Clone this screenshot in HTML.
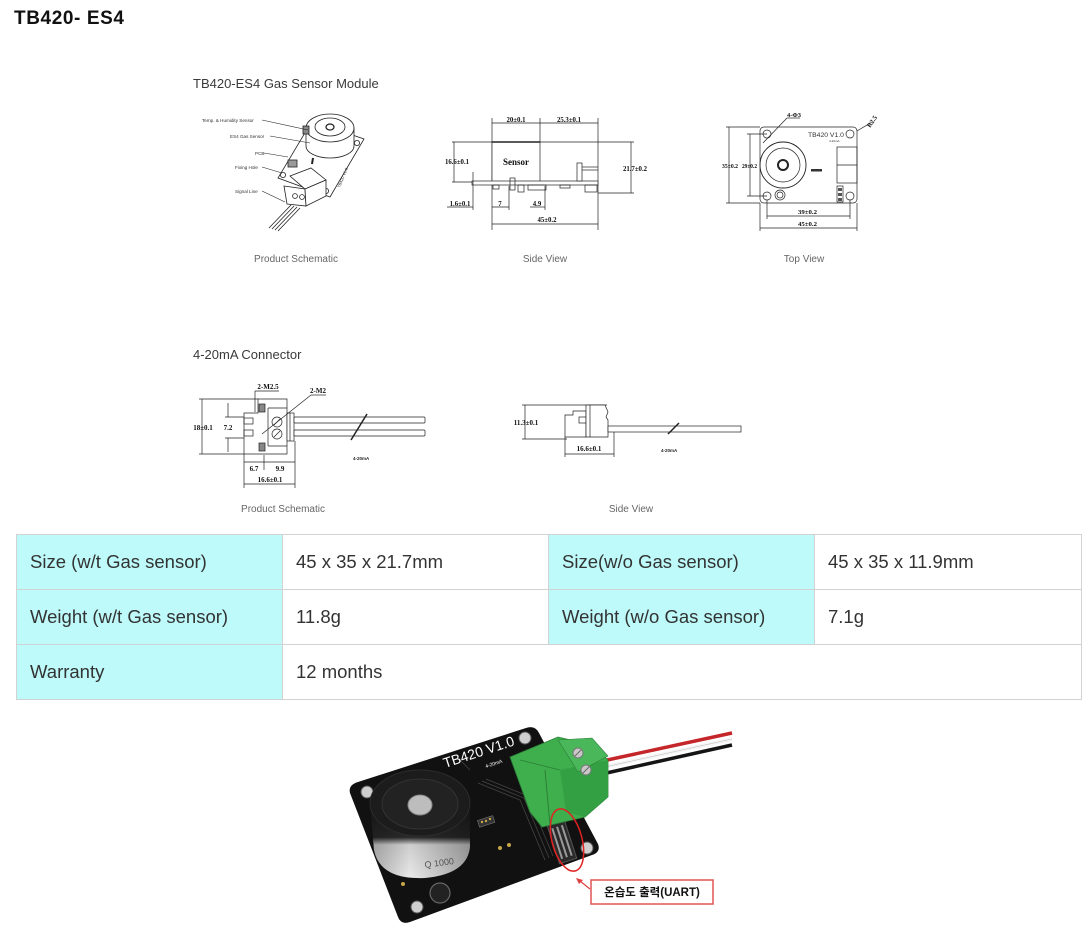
<!DOCTYPE html>
<html><head><meta charset="utf-8">
<style>
html,body{margin:0;padding:0;background:#fff;}
body{width:1092px;height:931px;position:relative;overflow:hidden;font-family:"Liberation Sans","Noto Sans CJK KR",sans-serif;}
.title{position:absolute;left:14px;top:8px;font-size:19px;font-weight:bold;color:#111;letter-spacing:0.6px;}
table{position:absolute;left:16px;top:534px;border-collapse:collapse;table-layout:fixed;width:1065px;}
td{border:1px solid #d2d2d2;height:54px;padding:0 0 0 13px;font-size:18.5px;color:#333;vertical-align:middle;}
td.c{background:#bdfaf9;}
svg{position:absolute;left:0;top:0;}
</style></head><body>
<div class="title">TB420- ES4</div>

<svg width="1092" height="931" viewBox="0 0 1092 931" font-family="Liberation Sans, sans-serif">
<defs>
<linearGradient id="cyl" x1="0" y1="0" x2="0" y2="1">
<stop offset="0" stop-color="#1a1a1a"/><stop offset="0.45" stop-color="#2a2a2a"/><stop offset="0.55" stop-color="#cfcfcf"/><stop offset="1" stop-color="#e9e9e9"/>
</linearGradient>
<linearGradient id="cylx" x1="0" y1="0" x2="1" y2="0">
<stop offset="0" stop-color="#000" stop-opacity="0.25"/><stop offset="0.4" stop-color="#000" stop-opacity="0"/><stop offset="1" stop-color="#000" stop-opacity="0.3"/>
</linearGradient>
</defs>

<!-- headings -->
<text x="193" y="88" font-size="13" fill="#3a3a3a">TB420-ES4 Gas Sensor Module</text>
<text x="193" y="359" font-size="13" fill="#3a3a3a">4-20mA Connector</text>

<g font-size="10" fill="#666" text-anchor="middle">
<text x="296" y="262">Product Schematic</text>
<text x="545" y="262">Side View</text>
<text x="804" y="262">Top View</text>
<text x="283" y="512">Product Schematic</text>
<text x="631" y="512">Side View</text>
</g>

<!-- ===== Product schematic (module) ===== -->
<g stroke="#222" stroke-width="0.8" fill="#fff">
<polygon points="312,121 364,139 330,197 278,178"/>
<circle cx="283" cy="175" r="2.6"/>
<circle cx="326" cy="191" r="2.6"/>
<circle cx="357" cy="143" r="2.6"/>
<path d="M306,128 L306,146 A24,12 0 0 0 354,146 L354,128 Z"/>
<ellipse cx="330" cy="128" rx="24" ry="14"/>
<ellipse cx="330" cy="127" rx="15" ry="9"/>
<ellipse cx="330" cy="127" rx="4" ry="3" stroke-width="1.3"/>
<rect x="303" y="126" width="6" height="8" fill="#888"/>
<polygon points="290,176 311,168 326,180 305,189"/>
<polygon points="284,186 305,189 306,206 287,204"/>
<polygon points="305,189 326,180 326,196 306,206"/>
<circle cx="295" cy="196" r="2.4"/>
<circle cx="302" cy="197" r="2.4"/>
<rect x="288" y="160" width="9" height="7" fill="#999"/>
</g>
<g stroke="#222" stroke-width="0.8">
<line x1="313" y1="158" x2="312" y2="164" stroke-width="2"/>
<line x1="291" y1="205" x2="269" y2="228"/><line x1="294" y1="206" x2="272" y2="229"/>
<line x1="297" y1="207" x2="275" y2="230"/><line x1="300" y1="208" x2="278" y2="231"/>
<line x1="262" y1="120" x2="308" y2="130" stroke-width="0.6"/>
<line x1="270" y1="136" x2="310" y2="143" stroke-width="0.6"/>
<line x1="264" y1="153" x2="288" y2="157" stroke-width="0.6"/>
<line x1="262" y1="167" x2="282" y2="173" stroke-width="0.6"/>
<line x1="262" y1="191" x2="285" y2="202" stroke-width="0.6"/>
</g>
<g font-size="4.6" fill="#333">
<text x="202" y="122">Temp. &amp; Humidity Sensor</text>
<text x="230" y="138">ES4 Gas Sensor</text>
<text x="255" y="155">PCB</text>
<text x="235" y="169">Fixing Hole</text>
<text x="235" y="193">Signal Line</text>
<text x="0" y="0" transform="translate(340,188) rotate(-68)" font-size="4">TB420 V1.0</text>
</g>

<!-- ===== Side view ===== -->
<g stroke="#222" stroke-width="0.7" fill="none">
<line x1="492" y1="118" x2="492" y2="230"/>
<line x1="540" y1="118" x2="540" y2="142"/>
<line x1="598" y1="118" x2="598" y2="230"/>
<line x1="492" y1="123" x2="598" y2="123"/>
<rect x="492" y="142" width="48" height="40" fill="#fff"/>
<line x1="492" y1="142" x2="540" y2="142" stroke-width="1.6"/>
<line x1="452" y1="142" x2="492" y2="142"/>
<line x1="452" y1="182" x2="492" y2="182"/>
<line x1="454" y1="142" x2="454" y2="182"/>
<line x1="540" y1="142" x2="634" y2="142"/>
<line x1="598" y1="193" x2="634" y2="193"/>
<line x1="631" y1="142" x2="631" y2="193"/>
<rect x="472" y="181" width="126" height="4" fill="#fff"/>
<line x1="473" y1="172" x2="473" y2="210"/>
<line x1="447" y1="207" x2="473" y2="207"/>
<rect x="493" y="185" width="6" height="4"/>
<rect x="510" y="178" width="5" height="12"/>
<rect x="518" y="185" width="6" height="7"/>
<rect x="528" y="185" width="18" height="5"/>
<rect x="560" y="185" width="10" height="3"/>
<rect x="585" y="185" width="12" height="7"/>
<line x1="509" y1="186" x2="509" y2="210"/>
<line x1="492" y1="207" x2="509" y2="207"/>
<line x1="545" y1="186" x2="545" y2="210"/>
<line x1="530" y1="207" x2="545" y2="207"/>
<line x1="492" y1="224" x2="598" y2="224"/>
<rect x="577" y="163" width="5" height="18" fill="#fff"/>
<line x1="582" y1="167" x2="598" y2="167"/>
<line x1="582" y1="170" x2="598" y2="170"/>
</g>
<g font-family="Liberation Serif, serif" font-weight="bold" font-size="6.8" fill="#111" text-anchor="middle">
<text x="516" y="122">20±0.1</text>
<text x="569" y="122">25.3±0.1</text>
<text x="457" y="164">16.6±0.1</text>
<text x="635" y="171">21.7±0.2</text>
<text x="460" y="206">1.6±0.1</text>
<text x="500" y="206">7</text>
<text x="537" y="206">4.9</text>
<text x="547" y="222">45±0.2</text>
</g>
<text x="516" y="165" font-family="Liberation Serif, serif" font-weight="bold" font-size="9" text-anchor="middle" fill="#111">Sensor</text>

<!-- ===== Top view ===== -->
<g stroke="#222" stroke-width="0.7" fill="none">
<rect x="760" y="127" width="97" height="76" rx="4" fill="#fff"/>
<circle cx="767" cy="134" r="4"/><circle cx="850" cy="134" r="4"/>
<circle cx="767" cy="196" r="4"/><circle cx="850" cy="196" r="4"/>
<circle cx="783" cy="165" r="23" stroke-width="0.9"/>
<circle cx="783" cy="165" r="17"/>
<circle cx="783" cy="165" r="5" stroke-width="2"/>
<rect x="837" y="147" width="20" height="36"/>
<line x1="837" y1="165" x2="857" y2="165"/>
<rect x="837" y="186" width="6" height="16"/>
<circle cx="780" cy="195" r="5"/>
<circle cx="780" cy="195" r="3"/>
<line x1="726" y1="127" x2="760" y2="127"/>
<line x1="726" y1="203" x2="760" y2="203"/>
<line x1="729" y1="127" x2="729" y2="203"/>
<line x1="747" y1="134" x2="767" y2="134"/>
<line x1="747" y1="196" x2="767" y2="196"/>
<line x1="750" y1="134" x2="750" y2="196"/>
<line x1="767" y1="200" x2="767" y2="219"/>
<line x1="850" y1="200" x2="850" y2="219"/>
<line x1="760" y1="203" x2="760" y2="231"/>
<line x1="857" y1="203" x2="857" y2="231"/>
<line x1="767" y1="216" x2="850" y2="216"/>
<line x1="760" y1="228" x2="857" y2="228"/>
<line x1="787" y1="118" x2="800" y2="118"/>
<line x1="787" y1="118" x2="763" y2="143"/>
<line x1="857" y1="131" x2="872" y2="122"/>
</g>
<rect x="811" y="169" width="11" height="2.5" fill="#333"/>
<rect x="838" y="188" width="4" height="3" fill="#555"/>
<rect x="838" y="193" width="4" height="3" fill="#555"/>
<rect x="838" y="198" width="4" height="3" fill="#555"/>
<text x="808" y="137" font-size="6.8" fill="#333">TB420 V1.0</text>
<text x="829" y="142" font-size="3" fill="#333">4-20mA</text>
<g font-family="Liberation Serif, serif" font-weight="bold" font-size="6.5" fill="#111">
<text x="722" y="168" textLength="16" lengthAdjust="spacingAndGlyphs">35±0.2</text>
<text x="742" y="168" textLength="15" lengthAdjust="spacingAndGlyphs">29±0.2</text>
<text x="798" y="214" textLength="19" lengthAdjust="spacingAndGlyphs">39±0.2</text>
<text x="798" y="226" textLength="19" lengthAdjust="spacingAndGlyphs">45±0.2</text>
<text x="787" y="117">4-Φ3</text>
<text x="0" y="0" transform="translate(870,128) rotate(-55)">R2.5</text>
</g>

<!-- ===== Connector product schematic ===== -->
<g stroke="#222" stroke-width="0.7" fill="none">
<line x1="199" y1="399" x2="259" y2="399"/>
<line x1="199" y1="454" x2="244" y2="454"/>
<line x1="202" y1="399" x2="202" y2="454"/>
<line x1="225" y1="417" x2="244" y2="417"/>
<line x1="225" y1="438" x2="244" y2="438"/>
<line x1="228" y1="403" x2="228" y2="417"/>
<line x1="228" y1="438" x2="228" y2="452"/>
<polygon points="258,399 287,399 287,454 244,454 244,413 258,413" fill="#fff"/>
<line x1="268" y1="408" x2="268" y2="446"/>
<line x1="268" y1="408" x2="287" y2="408"/>
<line x1="268" y1="446" x2="287" y2="446"/>
<rect x="287" y="413" width="7" height="28" fill="#fff"/>
<line x1="290" y1="413" x2="290" y2="441"/>
<circle cx="277" cy="422" r="5"/>
<circle cx="277" cy="434" r="5"/>
<line x1="274" y1="425" x2="280" y2="419"/>
<line x1="274" y1="437" x2="280" y2="431"/>
<rect x="244" y="418" width="9" height="6"/>
<rect x="244" y="430" width="9" height="6"/>
<rect x="259" y="404" width="6" height="8" fill="#888"/>
<rect x="259" y="443" width="6" height="8" fill="#888"/>
<rect x="294" y="417" width="131" height="6" rx="1" fill="#fff"/>
<rect x="294" y="430" width="131" height="6" rx="1" fill="#fff"/>
<line x1="351" y1="440" x2="367" y2="414" stroke-width="1.5"/>
<line x1="255" y1="391" x2="279" y2="391"/>
<line x1="255" y1="391" x2="255" y2="412"/>
<line x1="311" y1="395" x2="326" y2="395"/>
<line x1="311" y1="395" x2="262" y2="434"/>
<line x1="244" y1="454" x2="244" y2="488"/>
<line x1="264" y1="455" x2="264" y2="470"/>
<line x1="295" y1="441" x2="295" y2="488"/>
<line x1="244" y1="462" x2="295" y2="462"/>
<line x1="244" y1="484" x2="295" y2="484"/>
</g>
<g font-family="Liberation Serif, serif" font-weight="bold" font-size="7" fill="#111" text-anchor="middle">
<text x="203" y="430">18±0.1</text>
<text x="228" y="430">7.2</text>
<text x="268" y="389">2-M2.5</text>
<text x="318" y="393">2-M2</text>
<text x="254" y="471">6.7</text>
<text x="280" y="471">9.9</text>
<text x="270" y="482">16.6±0.1</text>
</g>
<text x="353" y="460" font-size="4.5" font-weight="bold" fill="#222">4-20mA</text>

<!-- ===== Connector side view ===== -->
<g stroke="#222" stroke-width="0.7" fill="none">
<line x1="522" y1="405" x2="607" y2="405"/>
<line x1="522" y1="439" x2="567" y2="439"/>
<line x1="525" y1="405" x2="525" y2="439"/>
<polygon points="565,415 565,437 586,437 586,411 573,411 573,415" fill="#fff"/>
<rect x="579" y="417" width="7" height="6" fill="#fff"/>
<polygon points="586,405 605,405 608,412 606,417 608,420 608,437 586,437" fill="#fff"/>
<line x1="590" y1="405" x2="590" y2="437"/>
<rect x="608" y="426" width="133" height="6" fill="#fff"/>
<line x1="668" y1="434" x2="679" y2="423" stroke-width="1.5"/>
<line x1="565" y1="437" x2="565" y2="457"/>
<line x1="614" y1="432" x2="614" y2="457"/>
<line x1="565" y1="454" x2="614" y2="454"/>
</g>
<g font-family="Liberation Serif, serif" font-weight="bold" font-size="7" fill="#111" text-anchor="middle">
<text x="526" y="425">11.3±0.1</text>
<text x="589" y="451">16.6±0.1</text>
</g>
<text x="661" y="452" font-size="4.5" font-weight="bold" fill="#222">4-20mA</text>

<!-- ===== Photo ===== -->
<g>
<path d="M358,782 L526,728 Q535,725 539,733 L598,844 Q601,852 592,855 L410,922 Q401,925 398,917 L350,793 Q348,785 358,782 Z" fill="#111"/>
<g fill="#cfcfcf" stroke="#555" stroke-width="1">
<circle cx="367" cy="792" r="6"/><circle cx="525" cy="738" r="6"/>
<circle cx="587" cy="848" r="6"/><circle cx="417" cy="907" r="6"/>
</g>
<g stroke="#444" stroke-width="0.8" fill="none">
<path d="M478,783 L520,800 L545,860"/><path d="M482,781 L524,798 L549,858"/><path d="M486,779 L528,796 L553,856"/>
<path d="M460,760 L470,770"/>
</g>
<rect x="478" y="818" width="16" height="7" fill="#333" stroke="#777" stroke-width="0.6" transform="rotate(-18 486 821)"/>
<circle cx="482" cy="822" r="1.2" fill="#c9a64a"/><circle cx="486" cy="821" r="1.2" fill="#c9a64a"/><circle cx="490" cy="819" r="1.2" fill="#c9a64a"/>
<circle cx="500" cy="848" r="2" fill="#c9a64a"/><circle cx="509" cy="845" r="2" fill="#c9a64a"/>
<circle cx="403" cy="884" r="2" fill="#c9a64a"/>
<circle cx="440" cy="893" r="10" fill="#222" stroke="#666" stroke-width="1.2"/>
<!-- cylinder -->
<path d="M370,804 L374,850 Q380,880 425,878 Q468,874 470,846 L470,804 Z" fill="url(#cyl)"/>
<path d="M370,804 L374,850 Q380,880 425,878 Q468,874 470,846 L470,804 Z" fill="url(#cylx)"/>
<ellipse cx="420" cy="803" rx="50" ry="33" fill="#1c1c1c" stroke="#2c2c2c"/>
<ellipse cx="420" cy="804" rx="38" ry="25" fill="#222" stroke="#333"/>
<ellipse cx="420" cy="805" rx="12" ry="10" fill="#bdbdbd" stroke="#888"/>
<text x="425" y="868" font-size="9" fill="#555" transform="rotate(-8 425 868)">Q 1000</text>
<!-- board text -->
<text x="0" y="0" transform="translate(445,768) rotate(-18)" font-size="14" fill="#fff">TB420 V1.0</text>
<text x="0" y="0" transform="translate(486,768) rotate(-18)" font-size="5" fill="#fff">4-20mA</text>
<!-- header pins -->
<g transform="rotate(-18 562 842)">
<rect x="553" y="822" width="18" height="40" fill="#2a2a2a" stroke="#555"/>
<rect x="556" y="826" width="2" height="32" fill="#999"/><rect x="561" y="826" width="2" height="32" fill="#999"/><rect x="566" y="826" width="2" height="32" fill="#999"/>
</g>
<!-- wires -->
<path d="M598,762 L732,733" stroke="#c4262a" stroke-width="3.5"/>
<path d="M600,768 L732,739" stroke="#f4f4f4" stroke-width="3.5"/>
<path d="M600,768 L732,739" stroke="#bbb" stroke-width="0.5" fill="none"/>
<path d="M602,774 L732,745" stroke="#151515" stroke-width="3.5"/>
<!-- green connector -->
<polygon points="510,757 558,737 592,745 608,760 608,797 585,817 542,827 530,812" fill="#3fae4d" stroke="#2b7f37" stroke-width="0.8"/>
<polygon points="560,770 608,760 608,797 585,817 566,812" fill="#34a044"/>
<polygon points="558,740 592,738 608,756 578,772" fill="#4ab75a" stroke="#2b7f37" stroke-width="0.6"/>
<line x1="545" y1="770" x2="550" y2="825" stroke="#2b7f37" stroke-width="1"/>
<line x1="520" y1="760" x2="560" y2="770" stroke="#2b7f37" stroke-width="0.8"/>
<circle cx="578" cy="753" r="5" fill="#c8c8c8" stroke="#777"/>
<circle cx="586" cy="770" r="5" fill="#c8c8c8" stroke="#777"/>
<line x1="575" y1="756" x2="581" y2="750" stroke="#666"/>
<line x1="583" y1="773" x2="589" y2="767" stroke="#666"/>
<!-- annotation -->
<ellipse cx="567" cy="840" rx="15" ry="32" transform="rotate(-15 567 840)" fill="none" stroke="#e02222" stroke-width="1.5"/>
<line x1="590" y1="889" x2="580" y2="881" stroke="#e04040" stroke-width="1.2"/>
<polygon points="576,878 583,880 579,884" fill="#e04040"/>
<rect x="591" y="880" width="122" height="24" fill="#fff" stroke="#e05555" stroke-width="1.5"/>
<text x="652" y="896" font-family="Liberation Sans, Noto Sans CJK KR, sans-serif" font-size="11.5" font-weight="bold" fill="#111" text-anchor="middle">온습도 출력(UART)</text>
</g>
</svg>

<table>
<colgroup><col style="width:266px"><col style="width:266px"><col style="width:266px"><col style="width:267px"></colgroup>
<tr><td class="c">Size (w/t Gas sensor)</td><td>45 x 35 x 21.7mm</td><td class="c">Size(w/o Gas sensor)</td><td>45 x 35 x 11.9mm</td></tr>
<tr><td class="c">Weight (w/t Gas sensor)</td><td>11.8g</td><td class="c">Weight (w/o Gas sensor)</td><td>7.1g</td></tr>
<tr><td class="c">Warranty</td><td colspan="3">12 months</td></tr>
</table>
</body></html>
